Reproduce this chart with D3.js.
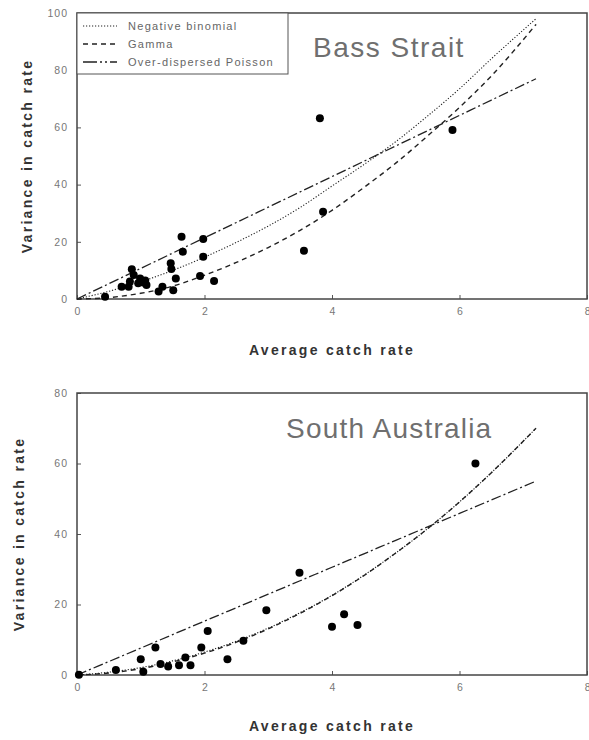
<!DOCTYPE html>
<html>
<head>
<meta charset="utf-8">
<script src="https://cdn.jsdelivr.net/npm/d3@7"></script>
<style>
  html, body { margin: 0; padding: 0; background: #fff; }
  svg { display: block; }
  text { font-family: "Liberation Sans", Arial, sans-serif; }
</style>
</head>
<body>
<svg id="chart" width="589" height="740"></svg>
<script>
// ---------- DATA ----------
const xTicks = [0, 2, 4, 6, 8];
const bassYTicks = [0, 20, 40, 60, 80, 100];
const saYTicks = [0, 20, 40, 60, 80];

// observed (mean, variance) points
const bassMean = [0.44, 1.64, 1.66, 1.98, 1.98, 1.93, 2.15, 1.47, 1.48, 1.55, 1.51, 1.34, 1.28,
                  0.86, 0.89, 0.83, 0.70, 0.99, 1.07, 1.09, 0.96, 0.81, 1.04,
                  3.81, 5.89, 3.86, 3.56];
const bassVar  = [0.8, 21.8, 16.5, 21.0, 14.8, 8.0, 6.3, 12.5, 10.5, 7.2, 3.1, 4.3, 2.6,
                  10.4, 8.4, 6.1, 4.3, 7.2, 6.5, 4.9, 5.5, 4.3, 5.8,
                  63.2, 59.1, 30.5, 16.9];

const saMean = [0.03, 0.61, 1.04, 1.00, 1.23, 1.31, 1.43, 1.60, 1.70, 1.78, 1.95, 2.05, 2.36,
                2.61, 2.97, 3.49, 4.00, 4.19, 4.40, 6.25];
const saVar  = [0.1, 1.4, 0.9, 4.5, 7.8, 3.1, 2.4, 2.8, 5.0, 2.8, 7.8, 12.5, 4.5,
                9.7, 18.4, 29.0, 13.7, 17.2, 14.2, 60.0];

// fitted curves
const curveMean = [0, 0.5, 1, 1.5, 2, 2.5, 3, 3.5, 4, 4.5, 5, 5.5, 6, 6.5, 7.2];
const bassNB    = [0, 2.7, 6, 10, 14.6, 19.8, 25.5, 32, 39.5, 47, 55, 64, 73.5, 84, 98];
const bassGamma = [0, 0.5, 2, 4.5, 8.3, 12.8, 18, 24, 31, 39, 47.5, 57, 67, 78, 96];
const bassODP   = [0, 5.35, 10.7, 16.05, 21.4, 26.75, 32.1, 37.45, 42.8, 48.15, 53.5, 58.85, 64.2, 69.55, 77];
const saNB      = [0, 0.8, 2.1, 4.0, 6.5, 9.6, 13.3, 17.7, 22.6, 28.3, 34.6, 41.5, 49.1, 57.4, 70];
const saGamma   = [0, 0.55, 1.8, 3.7, 6.2, 9.3, 13.1, 17.5, 22.5, 28.2, 34.6, 41.5, 49.1, 57.4, 70];
const saODP     = [0, 3.82, 7.64, 11.46, 15.28, 19.1, 22.92, 26.74, 30.56, 34.38, 38.2, 42.02, 45.84, 49.66, 55];

const legendLabels = ["Negative binomial", "Gamma", "Over-dispersed Poisson"];
const panelTitles = ["Bass Strait", "South Australia"];
const xTitle = "Average catch rate";
const yTitle = "Variance in catch rate";

// ---------- STYLES ----------
const styles = {
  nb:    { dash: "1.2,1.8", width: 1.1 },
  gamma: { dash: "5,4",     width: 1.4 },
  odp:   { dash: "10,3,2,3", width: 1.3 }
};

const svg = d3.select("#chart");

function panel(cfg) {
  const x = d3.scaleLinear().domain([0, 8]).range([77, 587]);
  const y = d3.scaleLinear().domain([0, cfg.yMax]).range([cfg.bottom, cfg.top]);
  const g = svg.append("g");

  const xa = d3.axisBottom(x).tickValues(xTicks).tickFormat(d3.format("d"))
    .tickSizeInner(-4).tickSizeOuter(0).tickPadding(9);
  const ya = d3.axisLeft(y).tickValues(cfg.yTicks).tickFormat(d3.format("d"))
    .tickSizeInner(-4).tickSizeOuter(0).tickPadding(9);

  const gx = g.append("g").attr("transform", `translate(0,${cfg.bottom})`).call(xa);
  const gy = g.append("g").attr("transform", "translate(77,0)").call(ya);
  [gx, gy].forEach(a => {
    a.select(".domain").remove();
    a.selectAll(".tick line").attr("stroke", "#555").attr("stroke-width", 1);
    a.selectAll(".tick text").attr("fill", "#777").style("font-size", "10.5px")
      .style("font-family", "'Liberation Sans', Arial, sans-serif");
  });
  gy.selectAll(".tick text").style("letter-spacing", "1px");
  // keep the last x label inside the page
  gx.selectAll(".tick text").filter(d => d === 8).attr("text-anchor", "end").attr("dx", "3");

  g.append("rect")
    .attr("x", x(0)).attr("y", y(cfg.yMax))
    .attr("width", x(8) - x(0)).attr("height", y(0) - y(cfg.yMax))
    .attr("fill", "none").attr("stroke", "#444").attr("stroke-width", 1.5);

  const line = d3.line().x(d => x(d[0])).y(d => y(d[1])).curve(d3.curveMonotoneX);
  const curves = [
    { v: cfg.odp, s: styles.odp },
    { v: cfg.gamma, s: styles.gamma },
    { v: cfg.nb, s: styles.nb }
  ];
  curves.forEach(c => {
    g.append("path")
      .datum(curveMean.map((m, i) => [m, c.v[i]]))
      .attr("d", line)
      .attr("fill", "none")
      .attr("stroke", "#222")
      .attr("stroke-width", c.s.width)
      .attr("stroke-dasharray", c.s.dash);
  });

  g.append("g").selectAll("circle")
    .data(cfg.mean.map((m, i) => [m, cfg.vars[i]]))
    .join("circle")
    .attr("cx", d => x(d[0])).attr("cy", d => y(d[1]))
    .attr("r", 4).attr("fill", "#000");

  g.append("text")
    .attr("x", cfg.titleX).attr("y", cfg.titleY)
    .attr("fill", "#6f6f6f")
    .style("font-size", "28px").style("letter-spacing", cfg.titleSpacing)
    .text(cfg.title);

  g.append("text")
    .attr("x", (x(0) + x(8)) / 2).attr("y", cfg.xTitleY)
    .attr("text-anchor", "middle")
    .attr("fill", "#333").style("font-size", "14px").style("font-weight", "bold")
    .style("letter-spacing", "2.3px")
    .text(xTitle);
  g.append("text")
    .attr("transform", `translate(${cfg.yTitleX},${(cfg.top + cfg.bottom) / 2}) rotate(-90)`)
    .attr("text-anchor", "middle")
    .attr("fill", "#333").style("font-size", "14px").style("font-weight", "bold")
    .style("letter-spacing", "2.3px")
    .text(yTitle);

  return { x, y, g };
}

panel({
  yMax: 100, top: 13, bottom: 299, yTicks: bassYTicks,
  nb: bassNB, gamma: bassGamma, odp: bassODP,
  mean: bassMean, vars: bassVar,
  title: panelTitles[0], titleX: 313, titleY: 57, titleSpacing: "1.5px",
  xTitleY: 355, yTitleX: 32
});

panel({
  yMax: 80, top: 393, bottom: 675, yTicks: saYTicks,
  nb: saNB, gamma: saGamma, odp: saODP,
  mean: saMean, vars: saVar,
  title: panelTitles[1], titleX: 286, titleY: 438, titleSpacing: "1.2px",
  xTitleY: 731, yTitleX: 24
});

// legend (top panel)
const lg = svg.append("g");
lg.append("rect").attr("x", 77).attr("y", 13).attr("width", 211).attr("height", 61)
  .attr("fill", "#fff").attr("stroke", "#555").attr("stroke-width", 1);
const legendStyles = [styles.nb, styles.gamma, { dash: "14,3,2,3,2,3", width: 1.3 }];
const legendY = [26, 44, 62];
legendLabels.forEach((lab, i) => {
  lg.append("line").attr("x1", 83).attr("x2", 117)
    .attr("y1", legendY[i]).attr("y2", legendY[i])
    .attr("stroke", "#222").attr("stroke-width", legendStyles[i].width)
    .attr("stroke-dasharray", legendStyles[i].dash);
  lg.append("text").attr("x", 128).attr("y", legendY[i] + 4)
    .attr("fill", "#666").style("font-size", "11px").style("letter-spacing", "1.3px")
    .text(lab);
});
</script>
</body>
</html>
